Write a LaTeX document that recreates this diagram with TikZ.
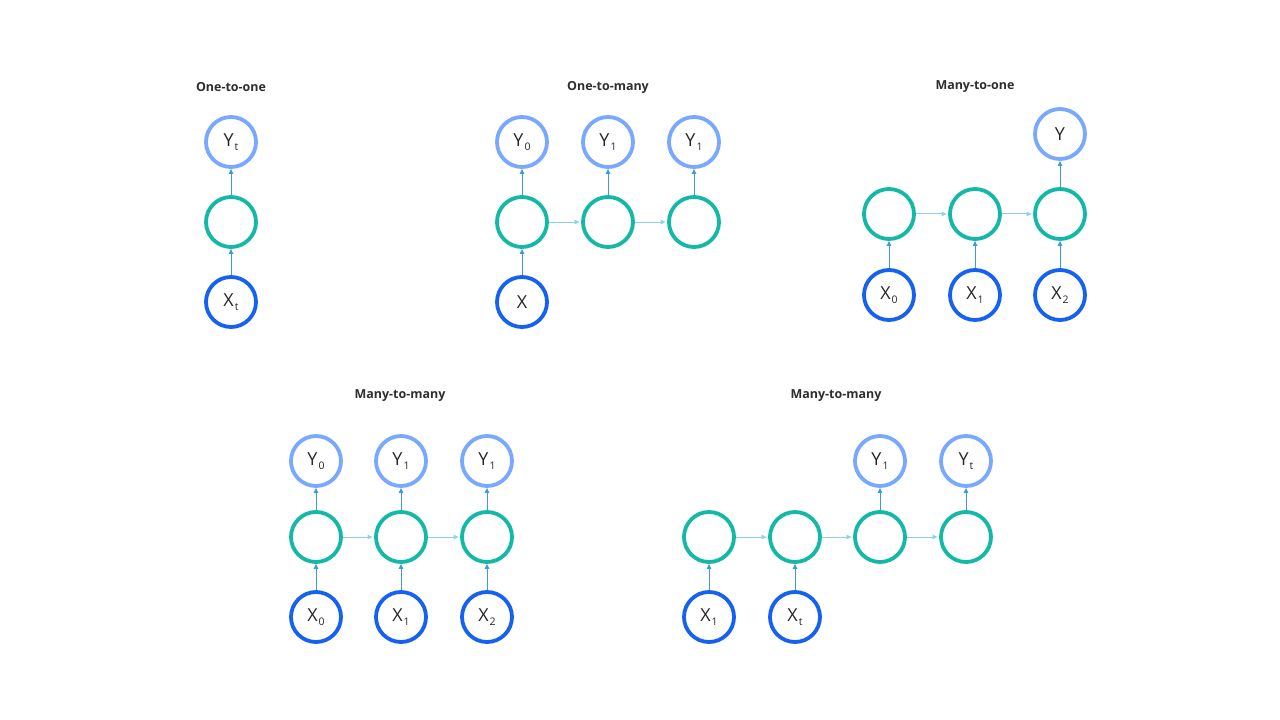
\documentclass[tikz,border=0pt]{standalone}
\usepackage{fontspec}
\setmainfont{Open Sans}
\usetikzlibrary{arrows.meta}
\definecolor{ycol}{HTML}{78A9FF}
\definecolor{hcol}{HTML}{14B8A6}
\definecolor{xcol}{HTML}{1662F0}
\definecolor{varr}{HTML}{3D9BD6}
\definecolor{harr}{HTML}{8AD4E3}
\definecolor{ttl}{HTML}{2E2E2E}
\newcommand{\sbs}[2]{#1\kern1bp\raisebox{-4bp}{\fontsize{10.5}{10.5}\selectfont #2}}
\begin{document}
\begin{tikzpicture}[x=1bp,y=-1bp,
  base/.style={circle,line width=3.8bp,minimum size=50bp,inner sep=0pt,font=\fontsize{18}{18}\selectfont,text=black!85},
  ynode/.style={base,draw=ycol},
  hnode/.style={base,draw=hcol},
  xnode/.style={base,draw=xcol},
  title/.style={font=\fontsize{12.5}{12.5}\selectfont\bfseries,text=ttl},
  va/.style={draw=varr,line width=1bp,-{Triangle[length=5bp,width=4.5bp]}},
  ha/.style={draw=harr,line width=1bp,-{Triangle[length=5bp,width=4.5bp]},shorten >=1.5bp}]
\useasboundingbox (0,0) rectangle (1280,720);
\fill[white] (0,0) rectangle (1280,720);
% One-to-one
\node[title] (t1) at (231,87) {One-to-one};
\node[ynode] (a1y) at (231,142) {\sbs{Y}{t}};
\node[hnode] (a1h) at (231,222) {};
\node[xnode] (a1x) at (231,302) {\sbs{X}{t}};
\draw[va] (a1x) -- (a1h);
\draw[va] (a1h) -- (a1y);
% One-to-many
\node[title] (t2) at (608,87) {One-to-many};
\node[ynode] (b1y) at (522,142) {\sbs{Y}{0}};
\node[ynode] (b2y) at (608,142) {\sbs{Y}{1}};
\node[ynode] (b3y) at (694,142) {\sbs{Y}{1}};
\node[hnode] (b1h) at (522,222) {};
\node[hnode] (b2h) at (608,222) {};
\node[hnode] (b3h) at (694,222) {};
\node[xnode] (b1x) at (522,302) {X};
\draw[va] (b1x) -- (b1h);
\draw[va] (b1h) -- (b1y);
\draw[va] (b2h) -- (b2y);
\draw[va] (b3h) -- (b3y);
\draw[ha] (b1h) -- (b2h);
\draw[ha] (b2h) -- (b3h);
% Many-to-one
\node[title] (t3) at (975,87) {Many-to-one};
\node[ynode] (c3y) at (1060,134) {Y};
\node[hnode] (c1h) at (889,214) {};
\node[hnode] (c2h) at (975,214) {};
\node[hnode] (c3h) at (1060,214) {};
\node[xnode] (c1x) at (889,295) {\sbs{X}{0}};
\node[xnode] (c2x) at (975,295) {\sbs{X}{1}};
\node[xnode] (c3x) at (1060,295) {\sbs{X}{2}};
\draw[va] (c1x) -- (c1h);
\draw[va] (c2x) -- (c2h);
\draw[va] (c3x) -- (c3h);
\draw[va] (c3h) -- (c3y);
\draw[ha] (c1h) -- (c2h);
\draw[ha] (c2h) -- (c3h);
% Many-to-many (left)
\node[title] (t4) at (400,396) {Many-to-many};
\node[ynode] (d1y) at (316,461) {\sbs{Y}{0}};
\node[ynode] (d2y) at (401,461) {\sbs{Y}{1}};
\node[ynode] (d3y) at (487,461) {\sbs{Y}{1}};
\node[hnode] (d1h) at (316,537) {};
\node[hnode] (d2h) at (401,537) {};
\node[hnode] (d3h) at (487,537) {};
\node[xnode] (d1x) at (316,617) {\sbs{X}{0}};
\node[xnode] (d2x) at (401,617) {\sbs{X}{1}};
\node[xnode] (d3x) at (487,617) {\sbs{X}{2}};
\foreach \i in {1,2,3} {
  \draw[va] (d\i x) -- (d\i h);
  \draw[va] (d\i h) -- (d\i y);
}
\draw[ha] (d1h) -- (d2h);
\draw[ha] (d2h) -- (d3h);
% Many-to-many (right)
\node[title] (t5) at (836,396) {Many-to-many};
\node[ynode] (e3y) at (880,461) {\sbs{Y}{1}};
\node[ynode] (e4y) at (966,461) {\sbs{Y}{t}};
\node[hnode] (e1h) at (709,537) {};
\node[hnode] (e2h) at (795,537) {};
\node[hnode] (e3h) at (880,537) {};
\node[hnode] (e4h) at (966,537) {};
\node[xnode] (e1x) at (709,617) {\sbs{X}{1}};
\node[xnode] (e2x) at (795,617) {\sbs{X}{t}};
\draw[va] (e1x) -- (e1h);
\draw[va] (e2x) -- (e2h);
\draw[va] (e3h) -- (e3y);
\draw[va] (e4h) -- (e4y);
\draw[ha] (e1h) -- (e2h);
\draw[ha] (e2h) -- (e3h);
\draw[ha] (e3h) -- (e4h);
\end{tikzpicture}
\end{document}
